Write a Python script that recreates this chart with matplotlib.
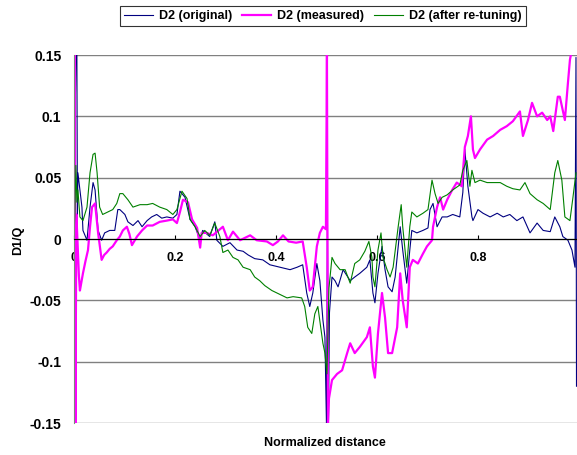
import matplotlib.pyplot as plt

plt.rcParams['font.family'] = ['Liberation Sans', 'DejaVu Sans']
plt.rcParams['font.weight'] = 'bold'

# D2 (original)
x_orig = [0.000, 0.004, 0.006, 0.007, 0.008, 0.012, 0.016, 0.018, 0.026, 0.032, 0.038, 0.042,
          0.048, 0.055, 0.061, 0.071, 0.081, 0.087, 0.091, 0.101, 0.107, 0.117, 0.127, 0.135,
          0.145, 0.154, 0.164, 0.174, 0.184, 0.196, 0.204, 0.210, 0.220, 0.230, 0.240, 0.250,
          0.255, 0.269, 0.279, 0.283, 0.295, 0.309, 0.323, 0.335, 0.345, 0.358, 0.374, 0.388,
          0.408, 0.428, 0.442, 0.453, 0.461, 0.467, 0.473, 0.481, 0.487, 0.493, 0.497, 0.500,
          0.502, 0.504, 0.506, 0.511, 0.517, 0.523, 0.533, 0.547, 0.556, 0.566, 0.580, 0.586,
          0.592, 0.596, 0.602, 0.610, 0.616, 0.622, 0.630, 0.636, 0.646, 0.651, 0.659, 0.665,
          0.669, 0.679, 0.691, 0.701, 0.705, 0.711, 0.719, 0.729, 0.739, 0.750, 0.764, 0.770,
          0.774, 0.780, 0.788, 0.790, 0.800, 0.810, 0.824, 0.838, 0.850, 0.863, 0.877, 0.889,
          0.903, 0.917, 0.929, 0.943, 0.952, 0.962, 0.968, 0.978, 0.986, 0.992, 0.994, 0.995]
y_orig = [0.000, 0.150, 0.150, 0.020, 0.054, 0.040, 0.026, 0.007, -0.001, 0.026, 0.046, 0.040,
          0.007, -0.001, 0.005, 0.007, 0.007, 0.024, 0.024, 0.020, 0.014, 0.011, 0.015, 0.010,
          0.015, 0.018, 0.020, 0.017, 0.018, 0.017, 0.020, 0.039, 0.034, 0.016, 0.010, -0.001,
          0.007, 0.002, 0.014, -0.001, -0.006, -0.003, -0.009, -0.010, -0.013, -0.016, -0.017, -0.021,
          -0.023, -0.025, -0.023, -0.021, -0.044, -0.055, -0.044, -0.020, -0.034, -0.066, -0.080, -0.150,
          0.013, -0.150, -0.060, -0.031, -0.034, -0.039, -0.025, -0.034, -0.031, -0.028, -0.023, -0.017,
          -0.044, -0.052, -0.028, -0.006, -0.025, -0.039, -0.043, -0.031, 0.010, -0.009, -0.036, -0.009,
          0.007, 0.005, 0.007, 0.009, 0.024, 0.029, 0.010, 0.018, 0.018, 0.020, 0.018, 0.038,
          0.073, 0.043, 0.018, 0.015, 0.024, 0.021, 0.018, 0.021, 0.018, 0.020, 0.015, 0.018,
          0.005, 0.013, 0.007, 0.006, 0.018, 0.010, 0.002, -0.001, -0.009, -0.023, 0.148, -0.120]

# D2 (measured)
x_meas = [0.000, 0.002, 0.003, 0.005, 0.008, 0.010, 0.012, 0.015, 0.018, 0.023, 0.028, 0.032,
          0.036, 0.042, 0.048, 0.055, 0.060, 0.065, 0.071, 0.077, 0.085, 0.091, 0.097, 0.105,
          0.110, 0.115, 0.125, 0.135, 0.145, 0.156, 0.170, 0.184, 0.196, 0.204, 0.210, 0.216,
          0.226, 0.234, 0.244, 0.250, 0.253, 0.263, 0.275, 0.295, 0.305, 0.315, 0.329, 0.349,
          0.362, 0.382, 0.394, 0.404, 0.414, 0.425, 0.440, 0.453, 0.461, 0.467, 0.473, 0.481,
          0.487, 0.493, 0.499, 0.501, 0.503, 0.505, 0.511, 0.521, 0.531, 0.541, 0.547, 0.556,
          0.566, 0.580, 0.586, 0.592, 0.596, 0.602, 0.610, 0.616, 0.622, 0.630, 0.640, 0.646,
          0.651, 0.659, 0.665, 0.671, 0.681, 0.691, 0.699, 0.705, 0.709, 0.711, 0.719, 0.725,
          0.731, 0.739, 0.749, 0.758, 0.768, 0.774, 0.780, 0.786, 0.790, 0.794, 0.804, 0.818,
          0.830, 0.844, 0.857, 0.869, 0.883, 0.889, 0.899, 0.907, 0.917, 0.927, 0.937, 0.943,
          0.949, 0.958, 0.962, 0.972, 0.978, 0.982, 0.986]
y_meas = [0.000, 0.150, -0.150, 0.020, -0.010, -0.030, -0.042, -0.035, -0.028, -0.018, -0.009, 0.010,
          0.026, 0.029, 0.005, -0.017, -0.013, -0.011, -0.008, -0.006, -0.001, 0.002, 0.007, 0.010,
          0.004, -0.005, 0.002, 0.007, 0.011, 0.011, 0.014, 0.015, 0.016, 0.013, 0.022, 0.032,
          0.030, 0.016, 0.009, -0.007, 0.005, 0.005, 0.003, 0.010, -0.001, 0.006, -0.001, 0.003,
          -0.001, -0.002, -0.005, -0.002, 0.003, -0.002, -0.003, -0.002, -0.023, -0.042, -0.039, -0.006,
          0.005, 0.010, 0.008, 0.150, -0.150, -0.130, -0.115, -0.110, -0.107, -0.093, -0.085, -0.093,
          -0.088, -0.080, -0.072, -0.104, -0.113, -0.077, -0.044, -0.064, -0.093, -0.093, -0.072, -0.028,
          -0.050, -0.072, -0.023, -0.017, -0.020, -0.012, -0.006, -0.003, -0.001, 0.010, 0.026, 0.034,
          0.024, 0.032, 0.040, 0.046, 0.043, 0.075, 0.084, 0.100, 0.073, 0.066, 0.073, 0.081,
          0.084, 0.089, 0.092, 0.096, 0.104, 0.084, 0.097, 0.111, 0.100, 0.103, 0.097, 0.100,
          0.088, 0.116, 0.116, 0.097, 0.127, 0.146, 0.155]

# D2 (after re-tuning)
x_tune = [0.000, 0.002, 0.004, 0.006, 0.008, 0.012, 0.018, 0.026, 0.032, 0.038, 0.042, 0.046,
          0.051, 0.057, 0.067, 0.077, 0.085, 0.091, 0.097, 0.107, 0.117, 0.131, 0.145, 0.156,
          0.170, 0.184, 0.196, 0.204, 0.214, 0.224, 0.230, 0.240, 0.250, 0.259, 0.269, 0.279,
          0.289, 0.295, 0.305, 0.315, 0.325, 0.335, 0.349, 0.358, 0.368, 0.378, 0.392, 0.402,
          0.422, 0.434, 0.451, 0.457, 0.463, 0.471, 0.477, 0.483, 0.493, 0.497, 0.501, 0.505,
          0.511, 0.517, 0.527, 0.537, 0.547, 0.556, 0.566, 0.576, 0.584, 0.590, 0.592, 0.596,
          0.602, 0.608, 0.612, 0.620, 0.626, 0.632, 0.642, 0.648, 0.651, 0.659, 0.665, 0.669,
          0.679, 0.691, 0.701, 0.709, 0.715, 0.721, 0.729, 0.739, 0.750, 0.764, 0.770, 0.778,
          0.784, 0.788, 0.794, 0.804, 0.818, 0.830, 0.844, 0.857, 0.869, 0.883, 0.893, 0.903,
          0.917, 0.929, 0.943, 0.952, 0.958, 0.966, 0.972, 0.982, 0.988, 0.994]
y_tune = [0.000, 0.020, 0.060, 0.030, 0.040, 0.018, 0.015, 0.026, 0.054, 0.069, 0.070, 0.054,
          0.026, 0.020, 0.022, 0.024, 0.029, 0.037, 0.037, 0.032, 0.026, 0.028, 0.028, 0.029,
          0.026, 0.024, 0.020, 0.024, 0.039, 0.033, 0.016, 0.010, 0.002, 0.007, 0.003, 0.013,
          0.002, -0.011, -0.009, -0.015, -0.017, -0.023, -0.025, -0.031, -0.034, -0.038, -0.042, -0.044,
          -0.048, -0.047, -0.048, -0.055, -0.072, -0.077, -0.061, -0.055, -0.085, -0.093, -0.110, -0.040,
          -0.015, -0.020, -0.025, -0.025, -0.036, -0.020, -0.017, -0.010, -0.002, -0.015, -0.031, -0.039,
          -0.009, 0.005, -0.015, -0.025, -0.031, -0.023, 0.010, 0.028, 0.010, -0.023, 0.010, 0.022,
          0.018, 0.021, 0.024, 0.048, 0.037, 0.029, 0.034, 0.036, 0.040, 0.044, 0.056, 0.064,
          0.043, 0.056, 0.046, 0.048, 0.046, 0.046, 0.046, 0.043, 0.041, 0.040, 0.046, 0.037,
          0.032, 0.029, 0.024, 0.054, 0.064, 0.048, 0.018, 0.015, 0.034, 0.054]

fig = plt.figure(figsize=(5.77, 4.55), dpi=100)
ax = fig.add_axes([0.128, 0.0703, 0.872, 0.8088])

ax.plot(x_orig, y_orig, color='#000080', lw=0.8, label='D2 (original)')
ax.plot(x_meas, y_meas, color='#FF00FF', lw=1.6, label='D2 (measured)')
ax.plot(x_tune, y_tune, color='#008000', lw=0.8, label='D2 (after re-tuning)')

ax.set_xlim(0, 0.996)
ax.set_ylim(-0.15, 0.15)
ax.set_yticks([-0.15, -0.1, -0.05, 0, 0.05, 0.1, 0.15])
ax.set_yticklabels(['-0.15', '-0.1', '-0.05', '0', '0.05', '0.1', '0.15'])
ax.set_xticks([0, 0.2, 0.4, 0.6, 0.8])
ax.set_xticklabels(['0', '0.2', '0.4', '0.6', '0.8'])
ax.tick_params(axis='y', length=0, pad=9, labelsize=10)
ax.tick_params(axis='x', direction='in', length=3, pad=9, labelsize=9)

ax.grid(axis='y', color='#808080', lw=1)
ax.set_axisbelow(True)
ax.spines['bottom'].set_position(('data', 0))
ax.spines['bottom'].set_color('black')
ax.spines['left'].set_color('#808080')
ax.spines['top'].set_visible(False)
ax.spines['right'].set_visible(False)

fig.text(0.031, 0.4725, 'D1/Q', rotation=90, ha='center', va='center', fontsize=9, fontweight='bold')
fig.text(0.563, 0.026, 'Normalized distance', ha='center', va='center', fontsize=9, fontweight='bold')

leg = fig.legend(loc='center', bbox_to_anchor=(0.56, 0.965), ncol=3, fontsize=9,
                 fancybox=False, edgecolor='black', handlelength=2.3, columnspacing=0.8,
                 handletextpad=0.5, borderpad=0.3)
leg.get_frame().set_linewidth(0.8)
for t in leg.get_texts():
    t.set_fontweight('bold')

plt.savefig('out.png', dpi=100)
